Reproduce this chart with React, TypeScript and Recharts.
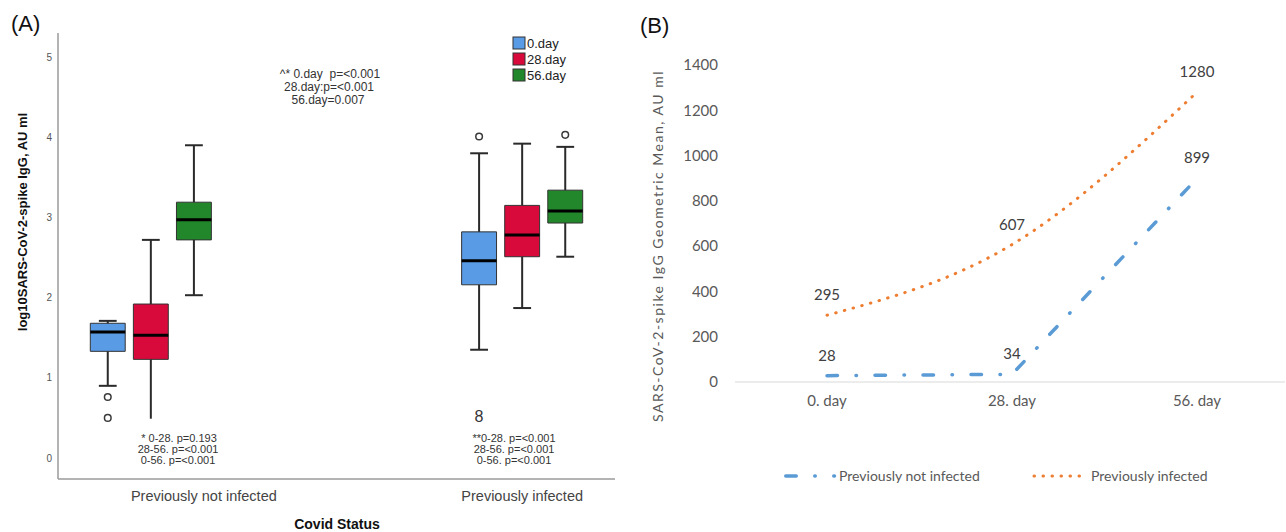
import React from 'react';
import {
  ComposedChart,
  LineChart,
  Line,
  XAxis,
  YAxis,
  ReferenceArea,
  ReferenceLine,
  Scatter,
  LabelList,
} from 'recharts';

// ---------- Panel A data (log10 values) ----------
const groupLabels = ['Previously not infected', 'Previously infected'];
const dayLabels = ['0.day', '28.day', '56.day'];
const dayColors = ['#5a9be6', '#d80a3c', '#21872a'];
// [group][day]
const whiskerLow = [
  [0.9, 0.49, 2.03],
  [1.35, 1.87, 2.51],
];
const quartile1 = [
  [1.33, 1.23, 2.72],
  [2.16, 2.51, 2.93],
];
const medians = [
  [1.57, 1.53, 2.97],
  [2.46, 2.78, 3.08],
];
const quartile3 = [
  [1.68, 1.92, 3.19],
  [2.82, 3.15, 3.34],
];
const whiskerHigh = [
  [1.71, 2.72, 3.9],
  [3.8, 3.92, 3.88],
];
const outlierGroup = [0, 0, 1, 1];
const outlierDay = [0, 0, 0, 2];
const outlierValue = [0.76, 0.5, 4.01, 4.03];
const leftYTicks = [0, 1, 2, 3, 4, 5];

// ---------- Panel B data ----------
const timepoints = ['0. day', '28. day', '56. day'];
const notInfectedGM = [28, 34, 899];
const infectedGM = [295, 607, 1280];
const rightYTicks = [0, 200, 400, 600, 800, 1000, 1200, 1400];

// layout constants
const DAY_OFFSET = [-0.116, 0, 0.116];
const BOX_HALF = 0.047;
const CAP_HALF = 0.024;

const FONT_A = '"Liberation Sans", Arial, sans-serif';
const FONT_B = 'Lato, "Open Sans", sans-serif';

const outlierPoints = outlierValue.map((v, i) => ({
  x: outlierGroup[i] + DAY_OFFSET[outlierDay[i]],
  y: v,
}));

const rightData = timepoints.map((t, i) => ({
  day: t,
  notInf: notInfectedGM[i],
  inf: infectedGM[i],
}));

function buildBoxes() {
  const whiskers: React.ReactNode[] = [];
  const rects: React.ReactNode[] = [];
  const meds: React.ReactNode[] = [];
  groupLabels.forEach((_, gi) => {
    dayLabels.forEach((__, di) => {
      const c = gi + DAY_OFFSET[di];
      const k = `${gi}-${di}`;
      whiskers.push(
        <ReferenceLine
          key={`wh-${k}`}
          segment={[
            { x: c, y: quartile3[gi][di] },
            { x: c, y: whiskerHigh[gi][di] },
          ]}
          stroke="#2a2a2a"
          strokeWidth={2}
        />,
        <ReferenceLine
          key={`wl-${k}`}
          segment={[
            { x: c, y: whiskerLow[gi][di] },
            { x: c, y: quartile1[gi][di] },
          ]}
          stroke="#2a2a2a"
          strokeWidth={2}
        />,
        <ReferenceLine
          key={`ch-${k}`}
          segment={[
            { x: c - CAP_HALF, y: whiskerHigh[gi][di] },
            { x: c + CAP_HALF, y: whiskerHigh[gi][di] },
          ]}
          stroke="#2a2a2a"
          strokeWidth={2}
        />
      );
      if (!(gi === 0 && di === 1)) {
        whiskers.push(
          <ReferenceLine
            key={`cl-${k}`}
            segment={[
              { x: c - CAP_HALF, y: whiskerLow[gi][di] },
              { x: c + CAP_HALF, y: whiskerLow[gi][di] },
            ]}
            stroke="#2a2a2a"
            strokeWidth={2}
          />
        );
      }
      rects.push(
        <ReferenceArea
          key={`b-${k}`}
          x1={c - BOX_HALF}
          x2={c + BOX_HALF}
          y1={quartile1[gi][di]}
          y2={quartile3[gi][di]}
          fill={dayColors[di]}
          fillOpacity={1}
          stroke="#333"
          strokeWidth={1}
        />
      );
      meds.push(
        <ReferenceLine
          key={`m-${k}`}
          segment={[
            { x: c - BOX_HALF, y: medians[gi][di] },
            { x: c + BOX_HALF, y: medians[gi][di] },
          ]}
          stroke="#000"
          strokeWidth={3}
        />
      );
    });
  });
  return [...whiskers, ...rects, ...meds];
}

const GroupTick = (props: any) => {
  const { x, y, payload } = props;
  const idx = Math.round(payload.value);
  const dx = idx === 0 ? 53 : 0;
  return (
    <text
      x={x + dx}
      y={y + 22}
      textAnchor="middle"
      fill="#444"
      fontSize={14.5}
      fontFamily={FONT_A}
    >
      {groupLabels[idx]}
    </text>
  );
};

export default function App() {
  return (
    <div
      style={{
        position: 'absolute',
        left: 0,
        top: 0,
        width: 1286,
        height: 532,
        background: '#fff',
        overflow: 'hidden',
      }}
    >
      {/* Panel A */}
      <div style={{ position: 'absolute', left: 0, top: 0 }}>
        <ComposedChart
          width={630}
          height={532}
          margin={{ top: 33, right: 15, bottom: 23, left: 0 }}
        >
          <XAxis
            type="number"
            dataKey="x"
            domain={[-0.25, 1.25]}
            ticks={[0, 1]}
            allowDataOverflow
            height={30}
            tickLine={false}
            tickSize={0}
            tickMargin={0}
            axisLine={{ stroke: '#9a9a9a', strokeWidth: 1.5 }}
            tick={<GroupTick />}
          />
          <YAxis
            type="number"
            dataKey="y"
            domain={[-0.262, 5.3]}
            ticks={leftYTicks}
            allowDataOverflow
            width={58}
            tickLine={false}
            tickSize={0}
            tickMargin={6}
            axisLine={{ stroke: '#9a9a9a', strokeWidth: 1.5 }}
            tick={{ fill: '#555', fontSize: 10, fontFamily: FONT_A }}
          />
          {buildBoxes()}
          <Scatter
            data={outlierPoints}
            dataKey="y"
            isAnimationActive={false}
            shape={(p: any) => (
              <circle
                cx={p.cx}
                cy={p.cy}
                r={3.3}
                fill="#fff"
                stroke="#3a3a3a"
                strokeWidth={1.5}
              />
            )}
          />
        </ComposedChart>
      </div>

      {/* Panel B */}
      <div style={{ position: 'absolute', left: 620, top: 0 }}>
        <LineChart
          width={666}
          height={532}
          data={rightData}
          margin={{ top: 65, right: 1, bottom: 120, left: 55 }}
        >
          <XAxis
            dataKey="day"
            height={30}
            interval={0}
            tickLine={false}
            tickSize={0}
            tickMargin={13}
            padding={{ left: 92, right: 88 }}
            axisLine={{ stroke: '#d9d9d9', strokeWidth: 1.2 }}
            tick={{ fill: '#595959', fontSize: 15, fontFamily: FONT_B }}
          />
          <YAxis
            type="number"
            domain={[0, 1400]}
            ticks={rightYTicks}
            width={60}
            axisLine={false}
            tickLine={false}
            tickSize={0}
            tickMargin={17}
            tick={{ fill: '#595959', fontSize: 15, fontFamily: FONT_B }}
          />
          <Line
            dataKey="notInf"
            type="linear"
            stroke="#5b9bd5"
            strokeWidth={3.5}
            strokeDasharray="10.5 18.5 0.5 18.5"
            strokeLinecap="round"
            dot={false}
            activeDot={false}
            isAnimationActive={false}
          >
            <LabelList
              dataKey="notInf"
              position="top"
              offset={15}
              fill="#404040"
              fontSize={15}
              fontFamily={FONT_B}
            />
          </Line>
          <Line
            dataKey="inf"
            type="monotone"
            stroke="#ed7d31"
            strokeWidth={3}
            strokeDasharray="0.5 8.5"
            strokeLinecap="round"
            dot={false}
            activeDot={false}
            isAnimationActive={false}
          >
            <LabelList
              dataKey="inf"
              position="top"
              offset={15}
              fill="#404040"
              fontSize={15}
              fontFamily={FONT_B}
            />
          </Line>
        </LineChart>
      </div>

      {/* Text overlay */}
      <svg
        width={1286}
        height={532}
        style={{ position: 'absolute', left: 0, top: 0, pointerEvents: 'none' }}
      >
        <text x={11} y={31} fontSize={22} fontFamily={FONT_A} fill="#111">
          (A)
        </text>
        <text x={640} y={33} fontSize={22} fontFamily={FONT_A} fill="#111">
          (B)
        </text>

        {/* Panel A y label */}
        <text
          x={22}
          y={222}
          transform="rotate(-90 22 222)"
          textAnchor="middle"
          dominantBaseline="central"
          fontSize={13}
          fontWeight="bold"
          fontFamily={FONT_A}
          fill="#111"
        >
          log10SARS-CoV-2-spike IgG, AU ml
        </text>
        <text
          x={337}
          y={529}
          textAnchor="middle"
          fontSize={14}
          fontWeight="bold"
          fontFamily={FONT_A}
          fill="#111"
        >
          Covid Status
        </text>

        {/* Panel A legend */}
        {dayLabels.map((d, i) => (
          <g key={d}>
            <rect
              x={513}
              y={37 + i * 16}
              width={12}
              height={12}
              fill={dayColors[i]}
              stroke="#333"
              strokeWidth={1}
            />
            <text
              x={527}
              y={47.5 + i * 16}
              fontSize={13}
              fontFamily={FONT_A}
              fill="#222"
            >
              {d}
            </text>
          </g>
        ))}

        {/* Panel A annotations */}
        <g fontFamily={FONT_A} fill="#333" textAnchor="middle">
          <text x={330} y={78} fontSize={12}>{'^* 0.day\u00a0 p=<0.001'}</text>
          <text x={329} y={91} fontSize={12}>28.day:p=&lt;0.001</text>
          <text x={328} y={104} fontSize={12}>56.day=0.007</text>

          <text x={179} y={442} fontSize={11}>* 0-28. p=0.193</text>
          <text x={178} y={453} fontSize={11}>28-56. p=&lt;0.001</text>
          <text x={178} y={464} fontSize={11}>0-56. p=&lt;0.001</text>

          <text x={514} y={442} fontSize={11}>**0-28. p=&lt;0.001</text>
          <text x={514} y={453} fontSize={11}>28-56. p=&lt;0.001</text>
          <text x={514} y={464} fontSize={11}>0-56. p=&lt;0.001</text>

          <text x={479} y={422} fontSize={16}>8</text>
        </g>

        {/* Panel B y label */}
        <text
          x={657}
          y={246}
          transform="rotate(-90 657 246)"
          textAnchor="middle"
          dominantBaseline="central"
          fontSize={14}
          letterSpacing={1.5}
          fontFamily={FONT_B}
          fill="#595959"
        >
          SARS-CoV-2-spike IgG Geometric Mean, AU ml
        </text>

        {/* Panel B legend */}
        <line
          x1={785.75}
          y1={476}
          x2={834.5}
          y2={476}
          stroke="#5b9bd5"
          strokeWidth={3.5}
          strokeDasharray="10.5 18.5 0.5 18.5"
          strokeLinecap="round"
        />
        <text x={839} y={481} fontSize={14} fontFamily={FONT_B} fill="#595959">
          Previously not infected
        </text>
        <line
          x1={1034}
          y1={476}
          x2={1082}
          y2={476}
          stroke="#ed7d31"
          strokeWidth={3}
          strokeDasharray="0.5 8.5"
          strokeLinecap="round"
        />
        <text x={1091} y={481} fontSize={14} fontFamily={FONT_B} fill="#595959">
          Previously infected
        </text>
      </svg>
    </div>
  );
}
